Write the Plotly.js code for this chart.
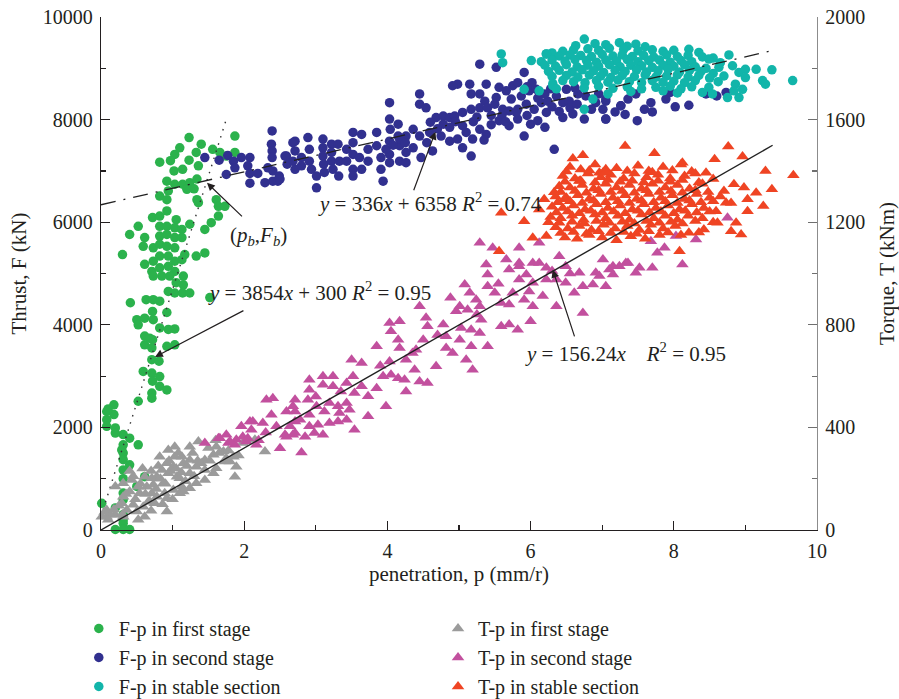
<!DOCTYPE html>
<html><head><meta charset="utf-8">
<script src="https://cdn.plot.ly/plotly-3.0.1.min.js"></script>
<style>html,body{margin:0;padding:0;background:#fff}#chart{width:899px;height:699px}</style>
</head><body><div id="chart"></div>
<script>
// ---------- DATA (penetration p in mm/r; thrust F in kN; torque T in kNm) ----------
const fFirstStage = [[1.23,7650],[1.87,7680],[0.82,7170],[1.03,7320],[1.02,7000],[1.14,7030],[1.23,7210],[1.33,7360],[1.36,7100],[0.92,6800],[1.03,6740],[1.14,6740],[1.24,6770],[1.34,6840],[0.94,6610],[0.82,6510],[0.92,6440],[1.34,6440],[1.36,6380],[1.66,7360],[1.75,7290],[1.87,7360],[1.61,6440],[1.64,6310],[1.73,6310],[1.64,6120],[1.54,5990],[1.45,5860],[1.24,5960],[0.52,5920],[0.40,5760],[0.30,5370],[0.72,6090],[0.82,6120],[0.92,6220],[1.05,6050],[0.82,5920],[0.92,5920],[1.03,5890],[1.13,5860],[0.61,5700],[0.82,5730],[0.92,5760],[1.03,5700],[1.13,5700],[0.59,5530],[0.73,5500],[0.82,5570],[0.92,5530],[1.03,5500],[1.17,5370],[1.33,5340],[1.45,5400],[0.61,5180],[0.73,5240],[0.82,5340],[0.94,5340],[1.03,5240],[1.13,5270],[0.71,5040],[0.82,5110],[0.94,5140],[1.03,5040],[0.73,4950],[0.85,4950],[0.96,4950],[1.15,4950],[1.05,4820],[1.15,4780],[0.94,4650],[1.03,4620],[1.14,4620],[1.24,4620],[1.52,4530],[0.41,4430],[0.63,4490],[0.73,4490],[0.82,4460],[0.72,4260],[0.92,4240],[0.50,4100],[0.61,4130],[0.73,4100],[0.52,4000],[0.82,3940],[0.94,3910],[1.03,3920],[0.61,3780],[0.72,3710],[1.03,3610],[0.61,3610],[0.68,3740],[0.92,3580],[0.71,3550],[0.71,3320],[0.81,3290],[0.59,3090],[0.71,3060],[0.82,2990],[0.72,2900],[0.82,2800],[0.92,2730],[0.71,2670],[0.71,2570],[0.52,2510],[0.18,2440],[0.08,2310],[0.18,2250],[0.08,2150],[0.08,2020],[0.20,1990],[0.31,1860],[0.40,1790],[0.52,1660],[0.31,1660],[0.31,1500],[0.31,1370],[0.40,1270],[0.31,1170],[0.61,1040],[0.31,720],[0.31,590],[0.01,520],[0.31,130],[0.20,10],[0.31,10],[0.40,10],[0.20,1890],[0.29,1560],[0.50,850],[0.20,430],[0.31,195],[0.31,300],[0.31,1000],[0.10,2360],[1.20,6640],[1.10,7450],[0.97,7200],[1.40,7520],[1.56,7420],[1.30,6650]];

const fSecondStage = [[1.45,7260],[1.65,7210],[1.77,7300],[1.85,7190],[1.96,7260],[2.08,7260],[1.75,6930],[1.87,7060],[2.05,7100],[2.08,6950],[2.19,6950],[2.08,6760],[2.29,6770],[2.40,6800],[2.33,7060],[2.40,7000],[2.39,7780],[2.38,7520],[2.39,7390],[2.39,7260],[2.49,6900],[2.47,6800],[2.59,7290],[2.60,7130],[2.71,7580],[2.71,7390],[2.68,7190],[2.71,7030],[2.80,7260],[2.80,7100],[2.89,7650],[2.91,7420],[2.91,7190],[2.94,7030],[3.01,6670],[3.01,6900],[3.10,7620],[3.10,7450],[3.10,7290],[3.11,7130],[3.12,6970],[3.22,7520],[3.22,7360],[3.22,7190],[3.24,7030],[3.31,7520],[3.33,7190],[3.32,6900],[3.43,7420],[3.43,7190],[3.52,7750],[3.52,7550],[3.52,7320],[3.52,7030],[3.52,6900],[3.64,7710],[3.61,7260],[3.64,7030],[3.73,7420],[3.73,7190],[3.85,7750],[3.85,7490],[3.91,7260],[3.91,7030],[3.94,6800],[4.03,8330],[4.03,8010],[4.04,7810],[4.03,7580],[4.03,7320],[4.03,7160],[4.15,7910],[4.15,7680],[4.17,7490],[4.17,7190],[4.26,7680],[4.26,7360],[5.29,9080],[5.52,9020],[4.98,8690],[5.15,8690],[5.38,8690],[4.45,8500],[5.17,8500],[5.29,8500],[5.36,8360],[5.52,8430],[5.56,8630],[5.66,8560],[5.75,8660],[5.82,8720],[5.91,8920],[5.73,8400],[5.87,8460],[5.98,8560],[6.08,8590],[4.45,8300],[4.54,8230],[4.68,8040],[4.78,8070],[4.87,8040],[4.94,8070],[5.05,8140],[5.17,8200],[5.29,8230],[5.40,8230],[5.50,8300],[5.61,8200],[5.70,8170],[5.82,8200],[5.94,8300],[6.05,8200],[6.15,8330],[6.24,8360],[6.36,8460],[6.45,8330],[6.54,8360],[6.66,8500],[6.77,8460],[6.91,8330],[7.05,8360],[6.22,8140],[6.45,8040],[6.59,8110],[6.75,8010],[7.05,8010],[7.26,8270],[4.36,7810],[4.45,7680],[4.59,7750],[4.78,7910],[4.87,7850],[4.75,7680],[4.87,7580],[4.98,7620],[5.10,7750],[5.19,7620],[5.29,7810],[5.38,7710],[5.05,7450],[5.17,7290],[4.63,7390],[4.47,7260],[4.26,7160],[4.36,7450],[4.17,7620],[5.56,7980],[5.70,7880],[5.82,8010],[5.91,7680],[6.00,7910],[6.33,7420],[5.80,8140],[4.91,8660],[2.68,7550],[2.57,7290],[2.50,6840],[7.05,8400],[7.01,8200],[7.05,8010],[7.26,8270],[7.36,8400],[7.47,8500],[7.59,8200],[7.49,7980],[7.68,8330],[7.89,8400],[8.21,8280],[8.73,8530],[4.60,7950],[4.70,7820],[4.95,7960],[5.05,7880],[5.20,7960],[5.25,8050],[5.45,8080],[5.60,8080],[5.95,8080],[6.10,8420],[6.20,8500],[6.30,8250],[6.40,8160],[6.55,8230],[6.65,8300],[6.85,8200],[6.95,8500],[5.45,7900],[5.65,7960],[6.10,7980],[6.20,7850],[5.35,7600],[4.55,7550],[4.25,7550],[3.98,7420],[4.08,7500],[6.02,8720],[5.95,8640],[6.28,8600],[6.50,8590],[6.62,8620],[7.18,8150],[7.32,8100],[7.70,8150],[8.02,8250],[7.95,8530],[8.45,8500],[8.60,8460]];

const fStableSection = [[6.75,9570],[7.24,9500],[7.47,9470],[6.63,9440],[7.05,9460],[7.60,9420],[6.90,9480],[7.35,9430],[6.45,9330],[6.60,9360],[6.80,9380],[6.95,9350],[7.10,9390],[7.30,9370],[7.50,9340],[7.70,9360],[7.85,9330],[8.00,9350],[8.21,9370],[8.35,9310],[6.30,9300],[6.22,9280],[6.40,9240],[6.55,9260],[6.70,9250],[6.85,9230],[7.00,9270],[7.15,9240],[7.28,9260],[7.42,9230],[7.58,9250],[7.72,9220],[7.90,9260],[8.05,9230],[8.20,9250],[8.40,9220],[8.55,9200],[8.77,9260],[6.01,9150],[6.15,9130],[6.30,9160],[6.48,9140],[6.62,9170],[6.78,9150],[6.92,9120],[7.05,9160],[7.20,9140],[7.35,9170],[7.50,9130],[7.65,9150],[7.80,9160],[7.95,9120],[8.10,9150],[8.25,9130],[8.49,9180],[8.65,9110],[6.20,9060],[6.35,9040],[6.50,9070],[6.65,9030],[6.80,9060],[6.95,9040],[7.10,9070],[7.25,9030],[7.40,9060],[7.55,9050],[7.70,9020],[7.85,9060],[8.00,9040],[8.15,9070],[8.30,9030],[8.63,9020],[8.82,9050],[8.45,9000],[6.25,8940],[6.40,8960],[6.58,8930],[6.72,8970],[6.88,8950],[7.02,8920],[7.18,8960],[7.32,8940],[7.48,8970],[7.62,8930],[7.78,8950],[7.92,8980],[8.08,8930],[8.22,8960],[8.38,8940],[8.91,8920],[9.00,8980],[9.15,8980],[9.37,8970],[8.55,8900],[6.30,8840],[6.50,8860],[6.66,8830],[6.82,8870],[6.98,8850],[7.12,8820],[7.28,8860],[7.45,8840],[7.60,8870],[7.75,8830],[7.90,8850],[8.05,8870],[8.20,8830],[8.35,8860],[8.50,8810],[9.00,8820],[8.70,8850],[6.31,8700],[6.45,8760],[6.60,8740],[6.76,8720],[6.92,8760],[7.08,8730],[7.22,8770],[7.38,8740],[7.55,8720],[7.70,8760],[7.85,8730],[8.00,8750],[8.15,8720],[8.30,8760],[8.49,8630],[8.86,8690],[9.24,8760],[9.28,8690],[9.66,8760],[8.62,8740],[6.12,8560],[5.91,8590],[6.75,8620],[6.95,8650],[7.15,8610],[7.35,8640],[7.55,8600],[7.75,8630],[7.95,8650],[8.10,8600],[8.25,8640],[8.54,8500],[8.40,8530],[8.75,8430],[8.91,8430],[8.84,8560],[8.96,8590],[7.40,8550],[7.85,8560],[8.05,8520],[6.75,8200],[6.87,8400],[7.08,8500],[5.59,9280],[5.61,9110],[6.22,9280],[6.31,8660],[6.36,8600]];

const tFirstStage = [[0.08,52],[0.20,59],[0.31,52],[0.08,78],[0.31,182],[0.43,195],[0.31,130],[0.52,169],[0.61,208],[0.64,169],[0.73,176],[0.82,286],[0.85,234],[0.94,221],[1.03,286],[1.01,247],[1.06,208],[1.15,260],[1.24,325],[1.36,345],[1.24,273],[1.33,247],[1.45,273],[1.57,293],[1.61,241],[1.73,267],[1.85,286],[1.89,247],[1.98,339],[1.87,208],[1.57,221],[1.45,195],[1.33,182],[1.13,169],[1.01,156],[0.89,143],[0.78,130],[0.68,111],[0.59,91],[0.92,72],[0.75,104],[0.61,52],[0.45,98],[1.10,202],[1.24,221],[1.45,234],[0.87,182],[0.78,208],[0.71,143],[0.92,124],[1.10,143],[1.24,163],[0.92,260],[1.03,325],[1.13,286],[0.94,312],[0.71,202],[0.54,143],[0.29,104],[0.36,78],[0.50,72],[0.13,59],[0.01,52],[1.71,306],[1.80,267],[1.61,325],[0.40,150],[0.48,120],[0.55,180],[0.62,140],[0.70,230],[0.77,160],[0.83,200],[0.90,180],[0.97,230],[1.05,240],[1.12,225],[1.20,250],[1.28,300],[1.40,260],[1.52,270],[1.65,300],[1.78,310],[1.92,290],[0.58,240],[0.66,110],[0.80,250],[0.95,270],[1.08,300],[1.18,190],[1.30,210],[1.50,320],[0.45,210],[0.35,140],[0.25,95],[0.18,80],[0.05,70],[0.10,40],[0.30,60],[0.52,40],[0.70,75],[0.86,100],[1.00,120],[1.15,150],[1.35,270],[1.60,350],[1.75,280],[2.29,306],[2.15,352],[0.20,170],[0.40,230]];

const tSecondStage = [[2.80,302],[2.50,319],[2.59,364],[2.71,378],[2.85,364],[2.98,378],[3.10,371],[2.71,423],[2.91,404],[3.03,410],[3.19,417],[3.31,423],[3.43,430],[3.54,391],[3.73,443],[2.71,462],[2.91,449],[3.12,462],[3.33,456],[3.47,469],[2.68,482],[2.89,508],[3.01,482],[3.19,495],[3.31,482],[3.43,495],[3.54,534],[2.91,547],[3.10,566],[3.24,560],[3.43,573],[3.52,599],[3.10,599],[3.24,599],[2.91,586],[3.50,664],[3.64,651],[3.73,521],[3.64,560],[3.85,716],[3.85,553],[3.98,482],[3.94,599],[4.05,605],[4.15,592],[4.24,586],[4.26,540],[4.38,625],[4.45,579],[4.56,573],[4.03,807],[4.17,814],[4.05,775],[4.15,742],[4.17,710],[4.03,657],[4.26,664],[4.45,872],[4.54,827],[4.56,794],[4.50,742],[4.40,703],[4.68,638],[4.78,801],[4.82,755],[4.82,710],[4.91,690],[4.96,853],[5.01,872],[5.03,788],[5.01,742],[5.12,859],[5.17,781],[5.17,716],[5.10,664],[5.19,625],[5.29,872],[5.31,820],[5.29,768],[5.40,996],[5.40,950],[5.40,716],[5.08,957],[5.15,925],[5.24,898],[5.50,925],[5.59,885],[5.70,879],[5.75,925],[5.84,977],[5.94,996],[5.91,898],[6.03,872],[6.17,912],[6.00,814],[5.70,801],[5.82,781],[5.59,794],[6.03,964],[6.22,977],[6.36,977],[6.36,872],[6.49,964],[6.61,925],[6.73,846],[6.73,950],[6.87,957],[7.05,950],[5.70,1016],[5.84,1028],[6.03,1041],[6.22,1022],[6.49,1028],[6.68,1003],[6.91,1003],[7.10,1016],[5.29,1120],[5.47,1100],[5.84,1100],[6.12,1120],[5.66,1055],[6.12,1041],[6.40,1067],[5.84,1041],[5.38,1035],[8.75,1217],[8.31,1133],[8.12,1035],[7.87,1100],[7.77,1081],[7.68,1126],[8.03,1146],[7.01,1055],[7.15,1028],[7.33,1041],[7.52,1022],[7.24,1028],[7.36,1041],[7.47,1003],[7.70,1022],[6.96,990],[7.15,996],[1.45,339],[1.66,358],[1.75,371],[1.78,339],[1.89,352],[1.87,332],[1.98,364],[1.96,404],[2.08,423],[2.10,391],[2.05,358],[1.64,358],[1.80,345],[2.12,423],[2.26,417],[2.31,508],[2.40,514],[2.38,449],[2.45,404],[2.59,462],[2.64,404],[2.71,508],[2.68,371],[2.57,371],[2.17,332],[2.03,345],[2.78,430],[4.88,905],[5.55,960],[5.98,930],[6.30,1010],[6.55,1000],[5.25,840],[4.70,760],[4.35,690],[3.90,640],[3.35,540],[3.00,520],[2.30,380],[2.20,350]];

const tStableSection = [[6.55,1415],[6.90,1425],[7.20,1410],[7.50,1420],[7.85,1415],[8.10,1425],[6.70,1405],[7.65,1400],[6.45,1380],[6.62,1370],[6.80,1390],[6.98,1375],[7.12,1385],[7.30,1370],[7.45,1390],[7.62,1375],[7.78,1385],[7.95,1370],[8.15,1380],[8.30,1390],[6.40,1340],[6.55,1335],[6.72,1345],[6.88,1330],[7.05,1350],[7.20,1335],[7.38,1345],[7.55,1330],[7.70,1350],[7.88,1335],[8.05,1345],[8.22,1330],[8.40,1350],[8.84,1348],[8.98,1335],[6.35,1300],[6.50,1295],[6.66,1305],[6.82,1290],[6.98,1310],[7.15,1295],[7.32,1305],[7.48,1290],[7.65,1310],[7.82,1295],[7.98,1305],[8.15,1290],[8.32,1310],[8.50,1295],[9.15,1315],[9.37,1328],[8.65,1300],[6.30,1260],[6.45,1255],[6.60,1265],[6.76,1250],[6.92,1270],[7.08,1255],[7.25,1265],[7.42,1250],[7.58,1270],[7.75,1255],[7.92,1265],[8.08,1250],[8.25,1270],[8.42,1255],[8.59,1243],[9.03,1289],[9.25,1263],[9.03,1243],[8.73,1276],[6.28,1220],[6.42,1215],[6.58,1225],[6.74,1210],[6.90,1230],[7.05,1215],[7.22,1225],[7.38,1210],[7.55,1230],[7.72,1215],[7.88,1225],[8.05,1210],[8.20,1225],[8.61,1198],[8.87,1198],[8.40,1215],[6.35,1180],[6.52,1175],[6.68,1185],[6.85,1170],[7.02,1190],[7.18,1175],[7.35,1185],[7.52,1170],[7.68,1190],[7.85,1175],[8.02,1185],[8.42,1172],[8.80,1165],[8.94,1152],[8.21,1159],[6.48,1140],[6.65,1135],[6.82,1150],[7.00,1140],[7.20,1130],[7.40,1145],[7.60,1135],[7.80,1150],[8.08,1087],[6.22,1146],[6.03,1139],[7.32,1497],[7.73,1469],[8.76,1495],[8.57,1445],[8.96,1456],[9.28,1400],[9.67,1383],[8.45,1393],[7.01,1393],[8.12,1432],[6.59,1448],[6.73,1461],[6.33,1317],[5.91,1204],[5.59,1237],[6.19,1289],[6.47,1289],[5.56,1087],[6.96,1393],[6.68,1361],[7.05,1406],[6.12,1250],[6.25,1200],[6.50,1398],[6.82,1402],[7.05,1396],[7.35,1400],[7.70,1395],[7.98,1402],[8.25,1398],[6.48,1358],[6.70,1362],[6.90,1355],[7.08,1365],[7.25,1358],[7.42,1362],[7.58,1355],[7.78,1362],[7.95,1358],[8.12,1365],[8.35,1355],[8.55,1368],[6.42,1318],[6.62,1322],[6.78,1315],[6.95,1325],[7.12,1318],[7.28,1322],[7.45,1315],[7.62,1325],[7.80,1318],[7.96,1322],[8.12,1315],[8.30,1325],[8.48,1318],[8.70,1322],[6.38,1278],[6.55,1282],[6.72,1275],[6.88,1285],[7.05,1278],[7.22,1282],[7.38,1275],[7.55,1285],[7.72,1278],[7.88,1282],[8.05,1275],[8.22,1285],[8.38,1278],[8.55,1282],[8.80,1275],[6.36,1238],[6.52,1242],[6.68,1235],[6.84,1245],[7.00,1238],[7.16,1242],[7.32,1235],[7.50,1245],[7.66,1238],[7.82,1242],[8.00,1235],[8.16,1245],[8.32,1238],[8.50,1242],[6.40,1198],[6.58,1202],[6.75,1195],[6.92,1205],[7.10,1198],[7.28,1202],[7.45,1195],[7.62,1205],[7.80,1198],[7.96,1202],[8.12,1195],[8.30,1205],[8.55,1200],[6.42,1158],[6.60,1162],[6.78,1155],[6.95,1165],[7.12,1158],[7.30,1162],[7.48,1155],[7.65,1165],[7.92,1160],[8.10,1150],[8.35,1160]];

// fitted lines, end points
const fitStage1P = [0.03, 1.76];
const fitStage1F = [400, 8050];
const fitStage2P = [0, 9.33];
const fitStage2F = [6340, 9330];
const fitTorqueP = [0, 9.38];
const fitTorqueT = [0, 1500];

const seriesNames = ['F-p in first stage','F-p in second stage','F-p in stable section','T-p in first stage','T-p in second stage','T-p in stable section'];
const seriesColors = ['#2bb24c','#31308f','#12b5aa','#9b9b9b','#c2509e','#ef4423'];
const xTicks = [0,2,4,6,8,10];
const yTicks = [0,2000,4000,6000,8000,10000];
const y2Ticks = [0,400,800,1200,1600,2000];

// ---------- CHART ----------
const FONT = '"Liberation Serif", "Times New Roman", serif';
const INK = '#231f20';
const xs = a => a.map(d => d[0]);
const ys = a => a.map(d => d[1]);

function tri(data, i, leg) {
  return {type:'scatter', mode:'markers', x:xs(data), y:ys(data), yaxis:'y2', name:seriesNames[i],
    legend:leg, marker:{symbol:'triangle-up', size:11, color:seriesColors[i], line:{width:0}}, cliponaxis:false};
}
function dot(data, i, leg) {
  return {type:'scatter', mode:'markers', x:xs(data), y:ys(data), yaxis:'y', name:seriesNames[i],
    legend:leg, marker:{symbol:'circle', size:9.5, color:seriesColors[i], line:{width:0}}, cliponaxis:false};
}

const traces = [
  tri(tFirstStage, 3, 'legend2'),
  tri(tSecondStage, 4, 'legend2'),
  tri(tStableSection, 5, 'legend2'),
  dot(fFirstStage, 0, 'legend'),
  dot(fSecondStage, 1, 'legend'),
  dot(fStableSection, 2, 'legend'),
  {type:'scatter', mode:'lines', x:fitStage1P, y:fitStage1F, showlegend:false, hoverinfo:'skip',
    line:{color:'#333', width:1.4, dash:'1.5px,6px'}},
  {type:'scatter', mode:'lines', x:fitStage2P, y:fitStage2F, showlegend:false, hoverinfo:'skip',
    line:{color:'#222', width:1.3, dash:'15px,8px,2px,8px'}},
  {type:'scatter', mode:'lines', x:fitTorqueP, y:fitTorqueT, yaxis:'y2', showlegend:false, hoverinfo:'skip',
    line:{color:'#222', width:1.4}}
];

const axisCommon = {
  ticks:'inside', ticklen:9, tickwidth:1.2, tickcolor:INK, showline:true, linecolor:INK, linewidth:1.3,
  showgrid:false, zeroline:false, tickfont:{family:FONT, size:20, color:INK}, tickformat:'d',
  ticklabelstandoff:3
};

const NB = '\u00a0';
const annFont = {family:FONT, size:21, color:INK};
const arrow = (x, y, ax, ay) => ({x:x, y:y, ax:ax, ay:ay, xref:'x', yref:'y', axref:'x', ayref:'y', text:'',
  showarrow:true, arrowhead:2, arrowsize:1.3, arrowwidth:1.2, arrowcolor:INK});
const label = (x, y, text) => ({x:x, y:y, xref:'x', yref:'y', text:text, showarrow:false, font:annFont});

const layout = {
  width:899, height:699,
  margin:{l:101, r:82, t:17, b:169, autoexpand:false},
  paper_bgcolor:'#fff', plot_bgcolor:'#fff',
  font:{family:FONT, size:20, color:INK},
  showlegend:true,
  xaxis:Object.assign({}, axisCommon, {range:[0,10], tickvals:xTicks,
    minor:{dtick:1, ticks:'inside', ticklen:5, tickcolor:INK},
    title:{text:'penetration, p (mm/r)', font:{family:FONT, size:21, color:INK}, standoff:3}}),
  yaxis:Object.assign({}, axisCommon, {range:[0,10000], tickvals:yTicks,
    minor:{dtick:1000, ticks:'inside', ticklen:5, tickcolor:INK},
    title:{text:'Thrust, F (kN)', font:{family:FONT, size:21, color:INK}, standoff:10}}),
  yaxis2:Object.assign({}, axisCommon, {range:[0,2000], tickvals:y2Ticks, overlaying:'y', side:'right',
    linecolor:'#8c8c8c', tickcolor:'#6f6f6f',
    minor:{dtick:200, ticks:'inside', ticklen:5, tickcolor:'#6f6f6f'},
    title:{text:'Torque, T (kNm)', font:{family:FONT, size:21, color:INK}, standoff:15}}),
  legend:{x:-0.031, xanchor:'left', y:-0.154, yanchor:'top', orientation:'v', bgcolor:'rgba(0,0,0,0)',
    font:{family:FONT, size:20, color:INK}, tracegroupgap:0, itemsizing:'trace'},
  legend2:{x:0.4707, xanchor:'left', y:-0.154, yanchor:'top', orientation:'v', bgcolor:'rgba(0,0,0,0)',
    font:{family:FONT, size:20, color:INK}, tracegroupgap:0, itemsizing:'trace'},
  annotations:[
    label(4.60, 6378, '<i>y</i> = 336<i>x</i> + 6358' + NB + '<i>R</i><sup>2</sup> = 0.74'),
    arrow(4.67, 7763, 4.36, 6593),
    label(2.20, 5734, '(<i>p</i><sub><i>b</i></sub>,<i>F</i><sub><i>b</i></sub>)'),
    arrow(1.48, 6768, 1.99, 6085),
    label(3.05, 4642, '<i>y</i> = 3854<i>x</i> + 300' + NB + '<i>R</i><sup>2</sup> = 0.95'),
    arrow(0.755, 3374, 2.01, 4291),
    label(7.33, 3452, '<i>y</i> = 156.24<i>x</i>' + NB + NB + NB + NB + '<i>R</i><sup>2</sup> = 0.95'),
    arrow(6.31, 5071, 6.62, 3745)
  ]
};

Plotly.newPlot('chart', traces, layout, {displayModeBar:false, staticPlot:true});
</script></body></html>
